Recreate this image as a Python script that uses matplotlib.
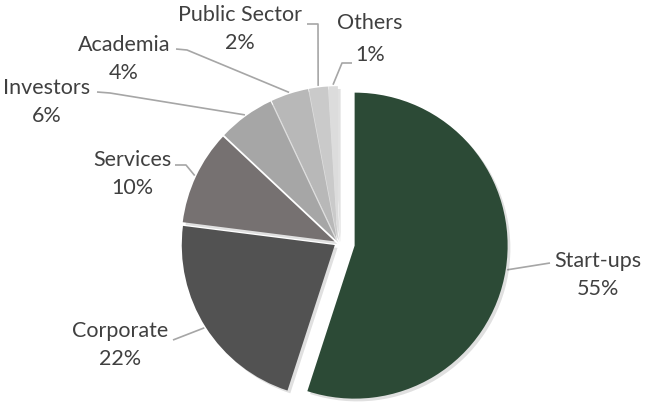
import numpy as np
import matplotlib.pyplot as plt
from matplotlib import patheffects as pe

W, H = 646, 403

# data
categories = ["Start-ups", "Corporate", "Services", "Investors", "Academia", "Public Sector", "Others"]
shares = [55, 22, 10, 6, 4, 2, 1]
colors = ["#2c4a36", "#525252", "#767171", "#a6a6a6", "#b8b8b8", "#cacaca", "#dcdcdc"]
explode = [0.11, 0.025, 0.025, 0.025, 0.025, 0.025, 0.025]   # fraction of radius

# label layout, in image pixels (x, y from top)
label_pos = [(598, 275), (120, 345), (132, 174), (47, 102), (124, 59), (240, 29), (370, 39)]
leader_start = [(550, 263), (173, 340), (175, 165), (97, 92), (176, 49), (307, 24), (352, 63)]
leader_elbow = [(550, 263), (173, 340), (186, 165), (110, 93), (187, 50), (318, 24), (342, 63)]
line_gap = [1.45, 1.45, 1.45, 1.45, 1.45, 1.45, 1.75]

CX, CY, R = 338, 243, 153

plt.rcParams['font.family'] = ['Lato', 'DejaVu Sans']

fig = plt.figure(figsize=(W / 100, H / 100), dpi=100)
ax = fig.add_axes([0, 0, 1, 1])

# pie explode is in data units, so scale by the radius
wedges, _ = ax.pie(shares, colors=colors, explode=[e * R for e in explode], startangle=90,
                   counterclock=False, center=(CX, H - CY), radius=R,
                   wedgeprops=dict(linewidth=0))
for w in wedges:
    w.set_path_effects([pe.SimplePatchShadow(offset=(2, -2), shadow_rgbFace="#000000", alpha=0.12),
                        pe.Normal()])

def img(p):
    return p[0], H - p[1]

for i, w in enumerate(wedges):
    # point on the wedge's outer arc, at its middle angle
    ang = np.deg2rad((w.theta1 + w.theta2) / 2)
    wx = w.center[0] + w.r * 1.01 * np.cos(ang)
    wy = w.center[1] + w.r * 1.01 * np.sin(ang)
    sx, sy = img(leader_start[i])
    ex, ey = img(leader_elbow[i])
    ax.plot([sx, ex, wx], [sy, ey, wy], color="#a6a6a6", lw=1.2, zorder=0,
            solid_capstyle="butt")
    lx, ly = img(label_pos[i])
    ax.text(lx, ly, "%s\n%d%%" % (categories[i], shares[i]), ha="center", va="center",
            fontsize=15.5, color="#404040", linespacing=line_gap[i])

ax.set_xlim(0, W)
ax.set_ylim(0, H)
ax.set_aspect("equal")
ax.axis("off")

fig.savefig("out.png", dpi=100)
